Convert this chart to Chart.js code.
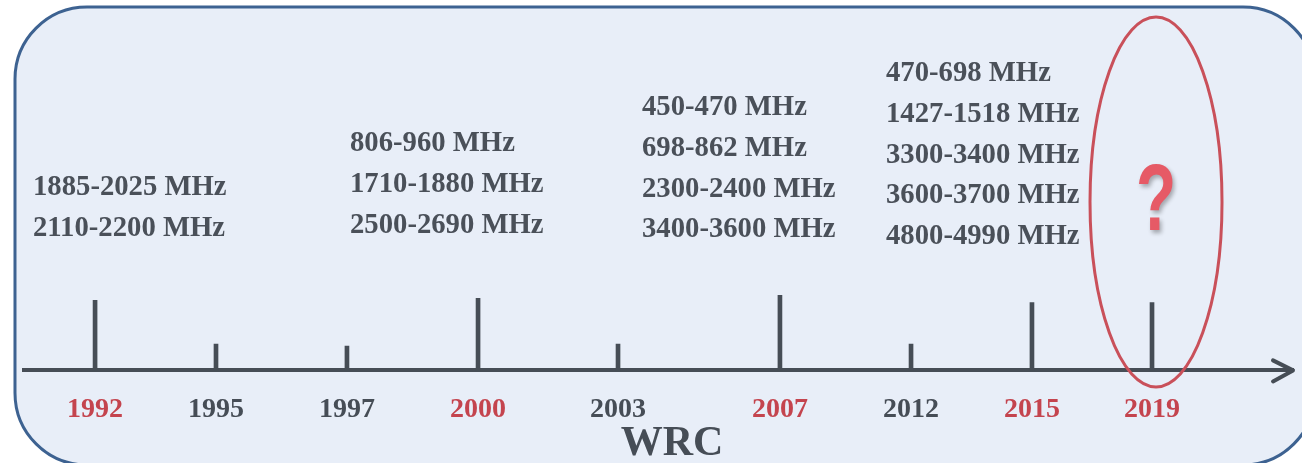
<!DOCTYPE html>
<html>
<head>
<meta charset="utf-8">
<script src="https://cdn.jsdelivr.net/npm/chart.js@4/dist/chart.umd.min.js"></script>
<style>
  html, body { margin: 0; padding: 0; background: #ffffff; }
  #wrap { width: 1302px; height: 463px; }
</style>
</head>
<body>
<div id="wrap"><canvas id="c" width="1302" height="463"></canvas></div>
<script>
// ---- data ----
const years = ['1992', '1995', '1997', '2000', '2003', '2007', '2012', '2015', '2019'];
// position of each conference along the timeline (0 = start of axis, 100 = arrow tip)
const timelinePos = [5.6, 15.13, 25.45, 35.78, 46.81, 59.57, 69.9, 79.43, 88.89];
// tick mark heights (major WRCs with identified bands are tall)
const tickHeights = [69, 26, 24, 71, 26, 74, 26, 67, 67];
const highlighted = [true, false, false, true, false, true, false, true, true];
const bands1992 = ['1885-2025 MHz', '2110-2200 MHz'];
const bands2000 = ['806-960 MHz', '1710-1880 MHz', '2500-2690 MHz'];
const bands2007 = ['450-470 MHz', '698-862 MHz', '2300-2400 MHz', '3400-3600 MHz'];
const bands2015 = ['470-698 MHz', '1427-1518 MHz', '3300-3400 MHz', '3600-3700 MHz', '4800-4990 MHz'];
const axisTitle = 'WRC';
const unknownMark = '?';

const DARK = '#464d56';
const RED = '#c4444e';
const SERIF = '"Liberation Serif", "Times New Roman", serif';

const decor = {
  id: 'decor',
  beforeDraw(chart) {
    const ctx = chart.ctx;
    ctx.save();
    ctx.fillStyle = '#ffffff';
    ctx.fillRect(0, 0, chart.width, chart.height);
    // rounded panel
    const x = 15, y = 7, w = 1300, h = 458, r = 72;
    ctx.beginPath();
    ctx.moveTo(x + r, y);
    ctx.lineTo(x + w - r, y);
    ctx.arcTo(x + w, y, x + w, y + r, r);
    ctx.lineTo(x + w, y + h - r);
    ctx.arcTo(x + w, y + h, x + w - r, y + h, r);
    ctx.lineTo(x + r, y + h);
    ctx.arcTo(x, y + h, x, y + h - r, r);
    ctx.lineTo(x, y + r);
    ctx.arcTo(x, y, x + r, y, r);
    ctx.closePath();
    ctx.fillStyle = '#e8eef8';
    ctx.fill();
    ctx.lineWidth = 3;
    ctx.strokeStyle = '#3d6291';
    ctx.stroke();
    ctx.restore();
  },
  afterDraw(chart) {
    const ctx = chart.ctx;
    const xs = chart.scales.x;
    const area = chart.chartArea;
    ctx.save();
    // arrow head
    ctx.strokeStyle = DARK;
    ctx.lineWidth = 4;
    ctx.lineCap = 'round';
    ctx.lineJoin = 'round';
    ctx.beginPath();
    ctx.moveTo(area.right - 20, area.bottom - 10);
    ctx.lineTo(area.right, area.bottom);
    ctx.lineTo(area.right - 20, area.bottom + 11);
    ctx.stroke();

    // band texts
    ctx.fillStyle = '#4a5059';
    ctx.font = 'bold 28.7px ' + SERIF;
    ctx.textAlign = 'left';
    ctx.textBaseline = 'alphabetic';
    const blocks = [
      [bands1992, 33, 195],
      [bands2000, 350, 151],
      [bands2007, 642, 115],
      [bands2015, 886, 81]
    ];
    blocks.forEach(([lines, bx, by]) => {
      lines.forEach((t, i) => ctx.fillText(t, bx, by + i * 40.8));
    });

    // axis title
    ctx.fillStyle = DARK;
    ctx.font = 'bold 42px ' + SERIF;
    ctx.textAlign = 'center';
    ctx.fillText(axisTitle, 672, 455);

    // ellipse round the last WRC
    const ex = xs.getPixelForValue(timelinePos[timelinePos.length - 1]) + 4;
    ctx.beginPath();
    ctx.ellipse(ex, 202, 66, 185, 0, 0, Math.PI * 2);
    ctx.strokeStyle = '#c9505a';
    ctx.lineWidth = 3;
    ctx.stroke();

    // question mark
    ctx.save();
    ctx.translate(ex, 230);
    ctx.scale(0.7, 1);
    ctx.shadowColor = 'rgba(0,0,0,0.3)';
    ctx.shadowBlur = 4;
    ctx.shadowOffsetX = 2;
    ctx.shadowOffsetY = 3;
    ctx.fillStyle = '#e65a66';
    ctx.font = 'bold 94px "Liberation Sans", Arial, sans-serif';
    ctx.textAlign = 'center';
    ctx.textBaseline = 'alphabetic';
    ctx.fillText(unknownMark, 0, 0);
    ctx.restore();

    ctx.restore();
  }
};

new Chart(document.getElementById('c'), {
  type: 'bar',
  data: {
    datasets: [{
      data: timelinePos.map((p, i) => ({ x: p, y: tickHeights[i] })),
      backgroundColor: DARK,
      borderWidth: 0,
      barThickness: 4
    }]
  },
  options: {
    responsive: false,
    animation: false,
    devicePixelRatio: 1,
    layout: { padding: { left: 24, right: 9, top: 269, bottom: 13 } },
    plugins: { legend: { display: false }, tooltip: { enabled: false } },
    scales: {
      x: {
        type: 'linear',
        min: 0,
        max: 100,
        offset: false,
        grid: { display: false, drawTicks: false, tickLength: 0 },
        border: { display: true, color: DARK, width: 4 },
        afterBuildTicks: (scale) => { scale.ticks = timelinePos.map(v => ({ value: v })); },
        ticks: {
          autoSkip: false,
          maxRotation: 0,
          padding: 23,
          font: { family: SERIF, weight: 'bold', size: 28 },
          color: (c) => highlighted[c.index] ? RED : DARK,
          callback: (v, i) => years[i]
        }
      },
      y: {
        display: false,
        min: 0,
        max: 100
      }
    }
  },
  plugins: [decor]
});
</script>
</body>
</html>
